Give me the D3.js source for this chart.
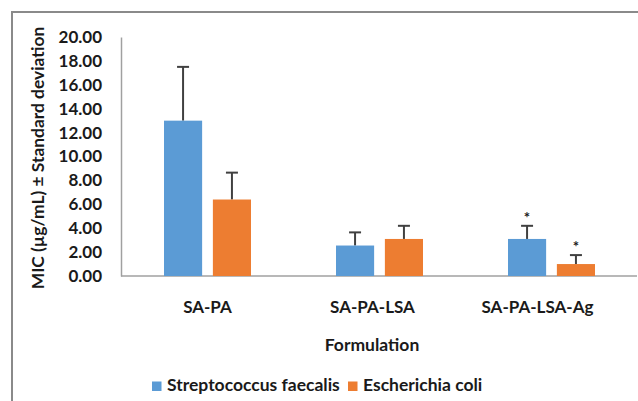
<!DOCTYPE html>
<html>
<head>
<meta charset="utf-8">
<script src="https://cdn.jsdelivr.net/npm/d3@7"></script>
<style>
  html, body { margin: 0; padding: 0; background: #fff; }
  svg text { font-family: Lato, "Open Sans", sans-serif; font-weight: bold; fill: #1a1a1a; }
</style>
</head>
<body>
<svg id="chart" width="638" height="401"></svg>
<script>
// MIC values per formulation with standard deviations
const categories = ["SA-PA", "SA-PA-LSA", "SA-PA-LSA-Ag"];
const seriesNames = ["Streptococcus faecalis", "Escherichia coli"];
const streptococcusMean = [13.0, 2.55, 3.1];
const streptococcusSD = [4.5, 1.1, 1.1];
const escherichiaMean = [6.4, 3.1, 1.0];
const escherichiaSD = [2.25, 1.1, 0.75];
const significant = [[false, false, true], [false, false, true]];
const yTicks = [0, 2, 4, 6, 8, 10, 12, 14, 16, 18, 20];
const colors = ["#5B9BD5", "#ED7D31"];

const svg = d3.select("#chart");
const W = 638, H = 401;

// outer frame
svg.append("rect").attr("x", 12).attr("y", 12).attr("width", W).attr("height", H)
  .attr("fill", "none").attr("stroke", "#8a8a8a").attr("stroke-width", 2);

const plot = { left: 121, right: 637, top: 37, bottom: 276 };

const x0 = d3.scaleBand().domain(categories).range([plot.left, plot.right]);
const x1 = d3.scaleBand().domain(seriesNames).range([43, 130]).paddingInner(0.22).paddingOuter(0);
const xLabel = d3.scaleBand().domain(categories).range([125, 620]);
const y = d3.scaleLinear().domain([0, 20]).range([plot.bottom, plot.top]);

// y axis
const yAxis = d3.axisLeft(y).tickValues(yTicks).tickFormat(d3.format(".2f")).tickSize(0).tickPadding(19);
const gy = svg.append("g").attr("transform", `translate(${plot.left},0)`).call(yAxis);
gy.select(".domain").attr("stroke", "#a0a0a0").attr("stroke-width", 1.5);
gy.selectAll("text").attr("font-size", 17).attr("fill", "#1a1a1a")
  .attr("font-family", "Lato, sans-serif").attr("font-weight", "bold");

// x baseline
svg.append("line").attr("x1", plot.left).attr("x2", plot.right)
  .attr("y1", y(0)).attr("y2", y(0)).attr("stroke", "#a0a0a0").attr("stroke-width", 1.5);

const rows = categories.map((c, i) => ({
  cat: c,
  vals: [
    { s: seriesNames[0], m: streptococcusMean[i], sd: streptococcusSD[i], sig: significant[0][i], k: 0 },
    { s: seriesNames[1], m: escherichiaMean[i], sd: escherichiaSD[i], sig: significant[1][i], k: 1 }
  ]
}));

const groups = svg.selectAll("g.cat").data(rows).join("g")
  .attr("class", "cat").attr("transform", d => `translate(${x0(d.cat)},0)`);

const items = groups.selectAll("g.bar").data(d => d.vals).join("g").attr("class", "bar");
const cx = d => x1(d.s) + x1.bandwidth() / 2;

// error bars (plus direction)
items.append("line")
  .attr("x1", cx).attr("x2", cx)
  .attr("y1", d => y(d.m)).attr("y2", d => y(d.m + d.sd))
  .attr("stroke", "#404040").attr("stroke-width", 2);
items.append("line")
  .attr("x1", d => cx(d) - 6).attr("x2", d => cx(d) + 6)
  .attr("y1", d => y(d.m + d.sd)).attr("y2", d => y(d.m + d.sd))
  .attr("stroke", "#404040").attr("stroke-width", 2);

items.append("rect")
  .attr("x", d => x1(d.s)).attr("width", x1.bandwidth())
  .attr("y", d => y(d.m)).attr("height", d => y(0) - y(d.m))
  .attr("fill", d => colors[d.k]);

// significance markers
items.filter(d => d.sig).append("text")
  .attr("x", cx)
  .attr("y", d => y(d.m + d.sd) - 3)
  .attr("text-anchor", "middle").attr("font-size", 15).attr("font-weight", "normal")
  .text("*");

// category labels
svg.selectAll("text.catlabel").data(categories).join("text")
  .attr("class", "catlabel")
  .attr("x", d => xLabel(d) + xLabel.bandwidth() / 2).attr("y", 313)
  .attr("text-anchor", "middle").attr("font-size", 17)
  .text(d => d);

// axis titles
svg.append("text").attr("x", 372).attr("y", 351).attr("text-anchor", "middle")
  .attr("font-size", 17.5).text("Formulation");
svg.append("text").attr("transform", "translate(44,158) rotate(-90)")
  .attr("text-anchor", "middle").attr("font-size", 17.4)
  .text("MIC (µg/mL) ± Standard deviation");

// legend
const legend = svg.append("g").attr("transform", "translate(152,391)");
const legX = [0, 196];
seriesNames.forEach((s, i) => {
  legend.append("rect").attr("x", legX[i]).attr("y", -9.5).attr("width", 9.5).attr("height", 9.5).attr("fill", colors[i]);
  legend.append("text").attr("x", legX[i] + 15).attr("y", 0).attr("font-size", 17.5).text(s);
});
</script>
</body>
</html>
